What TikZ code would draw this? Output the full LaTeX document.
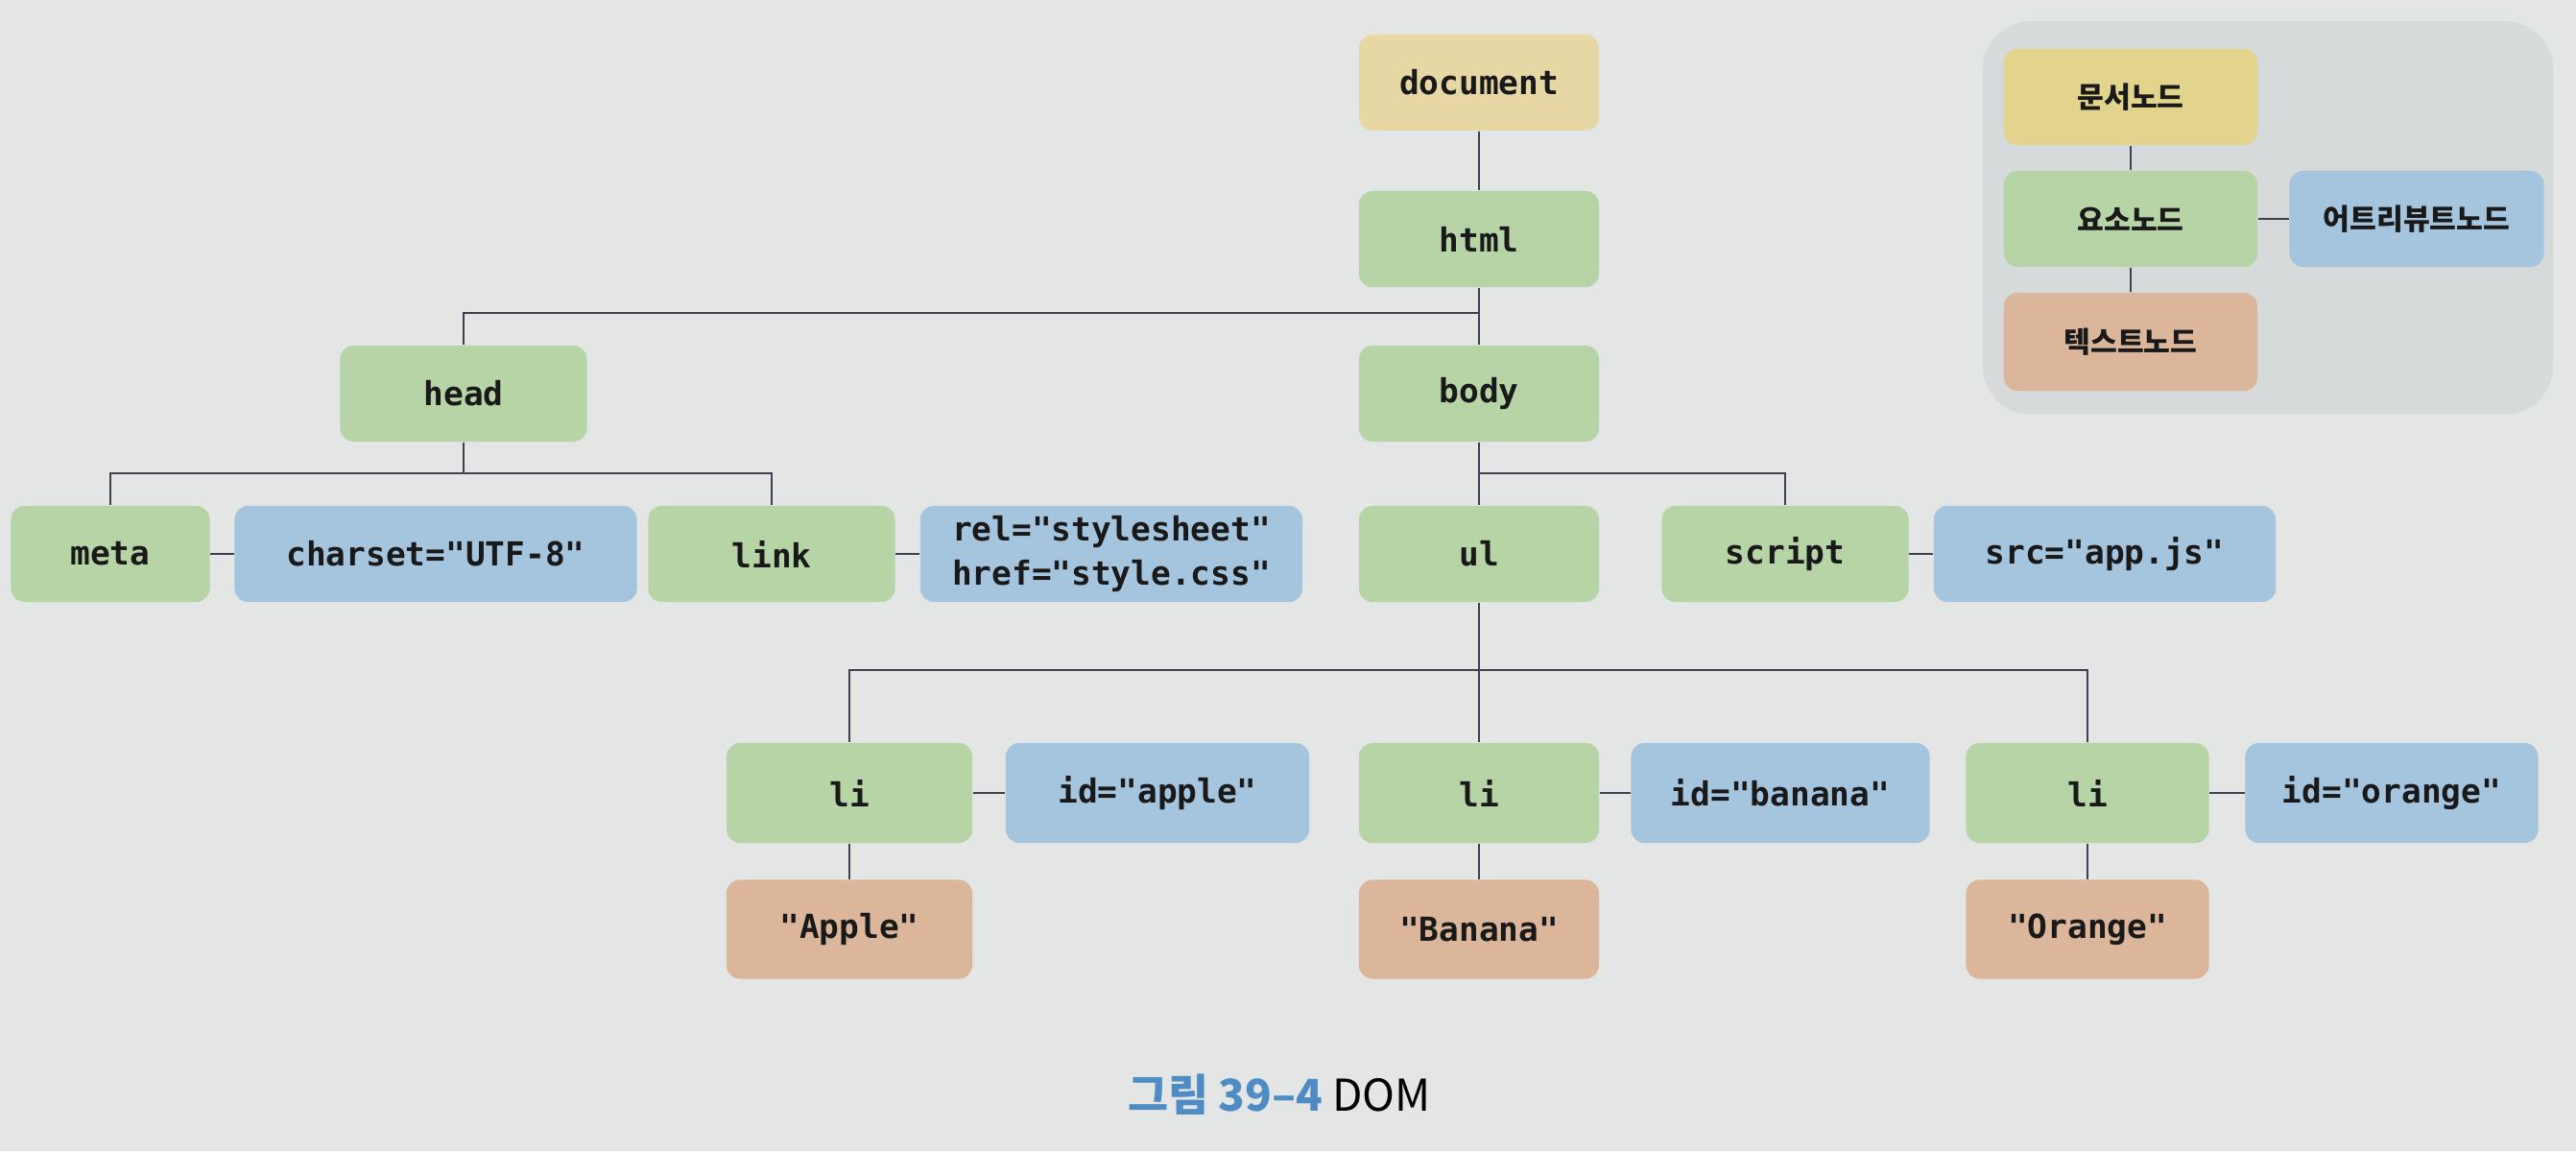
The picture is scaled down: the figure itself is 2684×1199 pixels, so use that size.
\documentclass[tikz,border=0pt]{standalone}
\usepackage{fontspec}
\setmonofont{DejaVu Sans Mono}
\newfontfamily\kr{Noto Sans CJK KR}
\definecolor{bgc}{RGB}{227,230,229}
\definecolor{legbg}{RGB}{214,218,218}
\definecolor{docc}{RGB}{230,215,165}
\definecolor{docleg}{RGB}{226,212,140}
\definecolor{elc}{RGB}{183,212,166}
\definecolor{atc}{RGB}{165,196,222}
\definecolor{txc}{RGB}{219,182,155}
\definecolor{linec}{RGB}{60,64,80}
\definecolor{capblue}{RGB}{80,140,196}
\begin{document}
\begin{tikzpicture}[x=0.01cm,y=-0.01cm,
  base/.style={rounded corners=0.14cm, inner sep=0pt, minimum height=1cm, align=center,
    font=\ttfamily\bfseries\fontsize{9.8pt}{13pt}\selectfont, text=black!90},
  docbox/.style={base, fill=docc},
  elbox/.style={base, fill=elc},
  atbox/.style={base, fill=atc},
  txbox/.style={base, fill=txc},
  legbox/.style={rounded corners=0.14cm, inner sep=0pt, minimum height=1cm,
    font=\kr\bfseries\fontsize{8.6pt}{10pt}\selectfont, text=black!90},
  conn/.style={draw=linec, line width=0.7pt}
]
\useasboundingbox (0,0) rectangle (2684,1199);
\fill[bgc] (0,0) rectangle (2684,1199);

% legend
\fill[legbg, rounded corners=0.5cm] (2066,22) rectangle (2660,432);
\node[legbox, fill=docleg, minimum width=2.64cm] (lgdoc) at (2220,101) {문서노드};
\node[legbox, fill=elc, minimum width=2.64cm] (lgel) at (2220,228) {요소노드};
\node[legbox, fill=atc, minimum width=2.65cm] (lgat) at (2518,228) {어트리뷰트노드};
\node[legbox, fill=txc, minimum width=2.64cm, minimum height=1.02cm] (lgtx) at (2220,356) {텍스트노드};
\draw[conn] (lgdoc) -- (lgel);
\draw[conn] (lgel) -- (lgtx);
\draw[conn] (lgel) -- (lgat);

% tree
\node[docbox, minimum width=2.5cm] (doc) at (1541,86) {document};
\node[elbox, minimum width=2.5cm] (html) at (1541,249) {html};
\node[elbox, minimum width=2.5cm] (body) at (1541,410) {body};
\node[elbox, minimum width=2.57cm] (head) at (483,410) {head};

\node[elbox, minimum width=2.07cm] (meta) at (115,577) {meta};
\node[atbox, minimum width=4.19cm] (charset) at (454,577) {charset="UTF-8"};
\node[elbox, minimum width=2.57cm] (link) at (804,577) {link};
\node[atbox, minimum width=3.98cm] (relhref) at (1158,577) {rel="stylesheet"\\href="style.css"};
\node[elbox, minimum width=2.5cm] (ul) at (1541,577) {ul};
\node[elbox, minimum width=2.57cm] (script) at (1860,577) {script};
\node[atbox, minimum width=3.56cm] (src) at (2193,577) {src="app.js"};

\node[elbox, minimum width=2.56cm, minimum height=1.04cm] (li1) at (885,826) {li};
\node[atbox, minimum width=3.16cm, minimum height=1.04cm] (idapple) at (1206,826) {id="apple"};
\node[elbox, minimum width=2.5cm, minimum height=1.04cm] (li2) at (1541,826) {li};
\node[atbox, minimum width=3.11cm, minimum height=1.04cm] (idbanana) at (1855,826) {id="banana"};
\node[elbox, minimum width=2.53cm, minimum height=1.04cm] (li3) at (2175,826) {li};
\node[atbox, minimum width=3.05cm, minimum height=1.04cm] (idorange) at (2492,826) {id="orange"};

\node[txbox, minimum width=2.56cm, minimum height=1.03cm] (apple) at (885,968) {"Apple"};
\node[txbox, minimum width=2.5cm, minimum height=1.03cm] (banana) at (1541,968) {"Banana"};
\node[txbox, minimum width=2.53cm, minimum height=1.03cm] (orange) at (2175,968) {"Orange"};

% junctions
\coordinate (j1) at (1541,326);
\coordinate (j2) at (483,493);
\coordinate (j3) at (1541,493);
\coordinate (j4) at (1541,698);

\draw[conn] (doc) -- (html);
\draw[conn] (html) -- (body);
\draw[conn] (head.north) |- (j1);
\draw[conn] (head.south) -- (j2);
\draw[conn] (meta.north) |- (j2);
\draw[conn] (link.north) |- (j2);
\draw[conn] (body) -- (ul);
\draw[conn] (script.north) |- (j3);
\draw[conn] (ul.south) -- (li2.north);
\draw[conn] (li1.north) |- (j4);
\draw[conn] (li3.north) |- (j4);

\draw[conn] (meta) -- (charset);
\draw[conn] (link) -- (relhref);
\draw[conn] (script) -- (src);
\draw[conn] (li1) -- (idapple);
\draw[conn] (li2) -- (idbanana);
\draw[conn] (li3) -- (idorange);
\draw[conn] (li1) -- (apple);
\draw[conn] (li2) -- (banana);
\draw[conn] (li3) -- (orange);

% caption
\node[inner sep=0pt, font=\kr\fontsize{13pt}{15pt}\selectfont] (cap) at (1333,1140)
  {\textcolor{capblue}{\bfseries 그림 39–4} DOM};
\end{tikzpicture}
\end{document}
